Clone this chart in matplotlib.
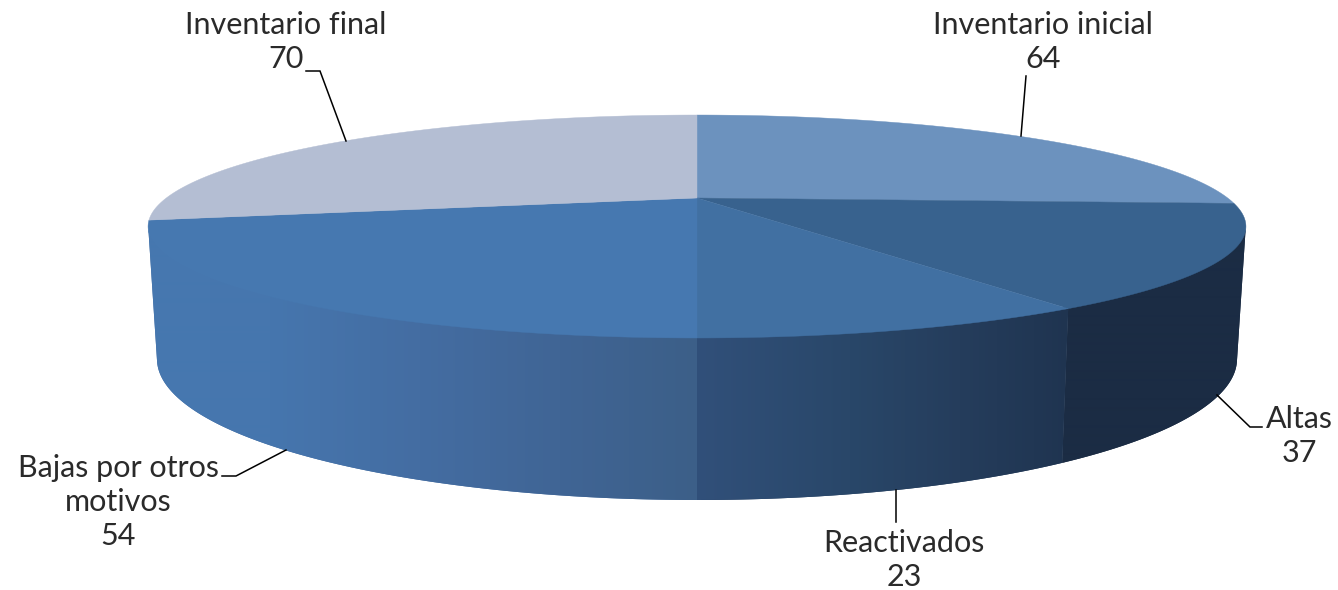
import numpy as np
import matplotlib.pyplot as plt
from matplotlib.patches import Polygon

categorias = ['Inventario inicial', 'Altas', 'Reactivados', 'Bajas por otros\nmotivos', 'Inventario final']
valores = [64, 37, 23, 54, 70]
colores_top = ['#6C92BE', '#38628E', '#4170A2', '#4678B0', '#B4BED3']

# gradiente lateral de cada rebanada: (x, color)
grad_lado = {
    1: [(1060, '#1B2C44'), (1240, '#1B2C44')],
    2: [(697, '#31507A'), (850, '#294769'), (960, '#253D5C'), (1070, '#1F3450')],
    3: [(150, '#4678B0'), (270, '#4676AE'), (420, '#446DA2'), (560, '#406595'), (697, '#3C5F88')],
}

posiciones = [(1043, 42), (1299, 436), (904, 560), (118, 502), (286, 42)]
guias = [
    [(1026, 76), (1021, 136)],
    [(1217, 395), (1250, 427), (1262, 427)],
    [(896, 490), (896, 522)],
    [(222, 476), (236, 476), (286, 450)],
    [(306, 71), (320, 71), (346, 141)],
]

CX, CY = 697, 198
R, K, C = 530.7, 104.2, 0.2556
RX_BASE, RY_BASE, CY_BASE = 540, 141, 359
LIM_DER, LIM_IZQ = 104.8, 255.2


def tapa(theta):
    # punto del borde superior, theta en grados desde las 12 en sentido horario
    t = np.radians(theta)
    u, v = np.sin(t), np.cos(t)
    d = 1 + C * v
    return CX + R * u / d, CY - K * v / d


def base(theta):
    x, _ = tapa(theta)
    dx = np.clip((x - CX) / 549, -1, 1)
    return CX + dx * RX_BASE, CY_BASE + RY_BASE * np.sqrt(1 - dx ** 2)


def hex_rgb(c):
    return [int(c[i:i + 2], 16) / 255 for i in (1, 3, 5)]


fig = plt.figure(figsize=(13.38, 5.9), dpi=100)
ax = fig.add_axes([0, 0, 1, 1])

angulos = np.cumsum([0] + valores) / sum(valores) * 360

# lateral
for i, stops in grad_lado.items():
    a0 = max(angulos[i], LIM_DER)
    a1 = min(angulos[i + 1], LIM_IZQ)
    th = np.linspace(a0, a1, 150)
    xt, yt = tapa(th)
    xb, yb = base(th)
    # tapa 2 px mas arriba para que no quede hueco con la cara superior
    pts = np.vstack([np.c_[xt, yt - 2], np.c_[xb, yb][::-1]])
    poly = Polygon(pts, closed=True, fc=stops[len(stops) // 2][1], ec='none', zorder=0.5)
    ax.add_patch(poly)
    xs = np.arange(100, 1300)
    rgb = np.array([hex_rgb(c) for _, c in stops])
    px = [p[0] for p in stops]
    fila = np.stack([np.interp(xs, px, rgb[:, k]) for k in range(3)], axis=1)
    im = ax.imshow(fila[np.newaxis, :, :], extent=(100, 1300, 590, 0), aspect='auto',
                   interpolation='bilinear', zorder=0.6)
    im.set_clip_path(poly)

# caras superiores
for i in range(len(valores)):
    th = np.linspace(angulos[i], angulos[i + 1], 200)
    xt, yt = tapa(th)
    pts = np.vstack([[CX, CY], np.c_[xt, yt]])
    ax.add_patch(Polygon(pts, closed=True, fc=colores_top[i], ec=colores_top[i], lw=0.3, zorder=1))

for g in guias:
    g = np.array(g)
    ax.plot(g[:, 0], g[:, 1], color='black', lw=1.1, solid_joinstyle='miter', zorder=2)

for nombre, val, (x, y) in zip(categorias, valores, posiciones):
    ax.text(x, y, f'{nombre}\n{val}', ha='center', va='center', fontsize=22, family='Lato',
            color='#2a2a2a', linespacing=1.26)

ax.set_xlim(0, 1338)
ax.set_ylim(590, 0)
ax.axis('off')
fig.savefig('out.png', dpi=100)
